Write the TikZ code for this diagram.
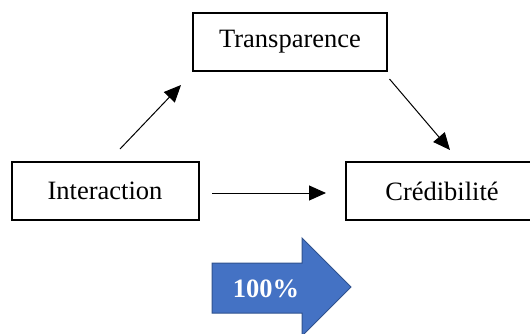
\documentclass[tikz,border=0pt]{standalone}
\usepackage{fontspec}
\setmainfont{Liberation Serif}
\usetikzlibrary{arrows.meta}
\definecolor{blockfill}{HTML}{4472C4}
\definecolor{blockedge}{HTML}{2F528F}
\tikzset{
  concept/.style={draw=black, line width=2pt},
  label/.style={font=\fontsize{26.5}{32}\selectfont},
  link/.style={line width=1pt, -{Triangle[length=17pt,width=15pt]}},
}
\begin{document}
\begin{tikzpicture}[x=1pt,y=1pt]
  \useasboundingbox (0,0) rectangle (530,333);
  \clip (0,0) rectangle (530,333);
  % concept boxes
  \draw[concept] (193,262) rectangle (387,320);
  \node[label] (trans) at (290,291) {Transparence};
  \draw[concept] (11.5,113) rectangle (198.5,171);
  \node[label] (inter) at (105,142) {Interaction};
  \draw[concept] (346,113) rectangle (545,171);
  \node[label] (cred) at (442,142) {Crédibilité};
  % arrow anchors
  \coordinate (a1) at (120,184);
  \coordinate (a2) at (181,248);
  \coordinate (b1) at (389.5,254);
  \coordinate (b2) at (450,183);
  \coordinate (c1) at (212,140);
  \coordinate (c2) at (326,140);
  \draw[link] (a1) -- (a2);
  \draw[link] (b1) -- (b2);
  \draw[link] (c1) -- (c2);
  % block arrow
  \draw[fill=blockfill, draw=blockedge, line width=1pt]
    (212,70) -- (302,70) -- (302,95) -- (351,46) -- (302,-3) -- (302,20) -- (212,20) -- cycle;
  \node[text=white, font=\bfseries\fontsize{26.5}{32}\selectfont] (pct) at (266,44) {100\%};
\end{tikzpicture}
\end{document}
